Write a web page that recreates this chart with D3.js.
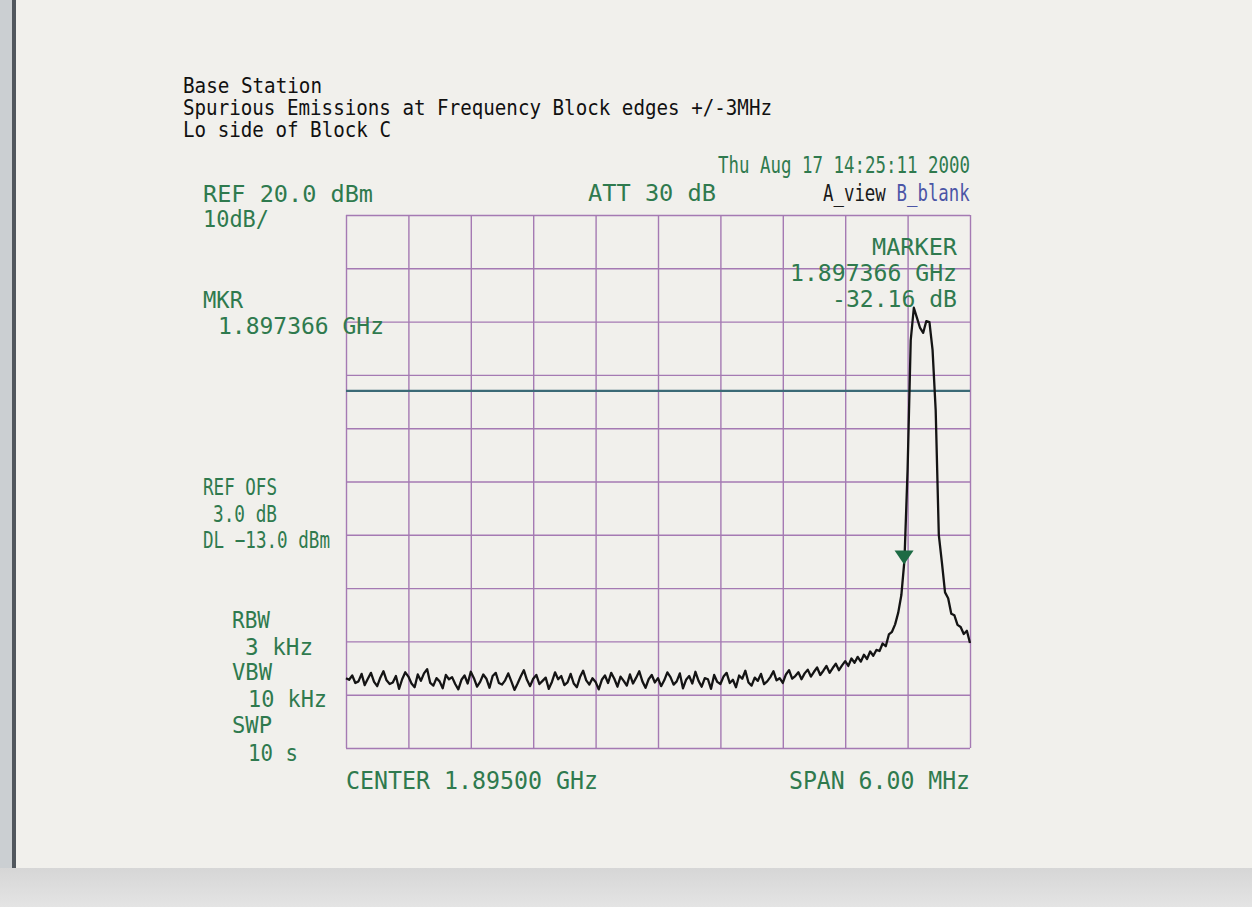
<!DOCTYPE html>
<html>
<head>
<meta charset="utf-8">
<title>Base Station - Spurious Emissions, Lo side of Block C</title>
<script src="https://cdn.jsdelivr.net/npm/d3@7/dist/d3.min.js"></script>
<style>
  body { margin: 0; background: #f1f0ec; }
  svg { display: block; }
  text { font-family: "DejaVu Sans Mono", monospace; }
</style>
</head>
<body>
<svg id="plot" width="1252" height="907"></svg>
<script>
// analyzer settings, as printed on the plot
var centerMHz = 1895.0;
var spanMHz = 6.0;
var refLevel = 20.0;       // dBm at top graticule
var dbPerDiv = 10;
var divisions = 10;
var displayLine = -13.0;   // DL
var markerMHz = 1897.366;

var headerLines = [
    "Base Station",
    "Spurious Emissions at Frequency Block edges +/-3MHz",
    "Lo side of Block C"
];

// trace A, 201 sweep points across the span (dBm)
var traceA = [
    -66.9, -67.2, -66.4, -67.8, -67.5, -66.1, -68.2, -67.0, -65.9, -67.6,
    -68.4, -66.8, -65.6, -67.3, -68.0, -67.7, -66.5, -68.9, -67.1, -65.8,
    -66.6, -67.9, -68.6, -66.2, -67.4, -66.0, -65.2, -67.8, -68.3, -66.9,
    -67.5, -68.8, -66.3, -67.1, -66.7, -68.0, -69.0, -67.2, -66.4, -67.9,
    -65.7, -66.9, -68.5, -67.6, -66.2, -67.0, -68.7, -66.5, -65.9, -67.8,
    -68.1, -67.3, -66.0, -67.5, -69.1, -67.9, -66.6, -65.4, -67.2, -68.4,
    -67.0, -66.3, -68.0, -67.4, -66.8, -68.9, -67.6, -65.8, -67.1, -66.5,
    -68.2, -67.7, -66.1, -67.9, -68.6, -66.7, -65.5, -67.3, -68.1, -66.9,
    -67.6, -69.0, -67.2, -66.4, -67.8, -65.9, -67.0, -68.5, -66.6, -67.4,
    -68.3, -66.2, -67.9, -66.8, -65.6, -67.5, -68.7, -67.1, -66.3, -67.7,
    -66.9, -68.4, -67.3, -65.8, -66.7, -68.1, -67.5, -66.0, -68.8, -67.2,
    -66.5, -67.9, -65.7, -67.4, -68.5, -66.9, -67.1, -68.9, -66.3, -67.6,
    -68.0, -66.6, -65.9, -67.8, -67.2, -68.6, -66.4, -67.0, -65.5, -67.7,
    -68.3, -66.8, -67.4, -66.1, -68.0, -67.5, -66.7, -65.6, -67.3, -66.9,
    -67.8, -66.2, -65.4, -67.0, -66.5, -65.8, -67.1, -66.0, -65.3, -66.6,
    -65.7, -64.9, -66.3, -65.5, -64.6, -65.9, -65.0, -64.2, -65.4, -64.5,
    -63.7, -64.6, -63.2, -64.0, -62.9, -63.8, -62.5, -63.3, -61.9, -62.7,
    -61.6, -61.8, -60.4, -60.9, -58.7, -58.2, -56.8, -54.6, -51.3, -44.7,
    -27.7, -3.5, 2.6, 0.7, -1.2, -2.1, 0.1, -0.1, -5.3, -16.6,
    -40.0, -45.2, -50.8, -51.9, -54.8, -55.1, -56.9, -57.3, -58.6, -58.0,
    -60.3
];

var svg = d3.select("#plot");
var green = "#2f7a4e";
var gridColor = "#a57ab3";

// ---- paper / scan edges ----
var grad = svg.append("defs").append("linearGradient")
    .attr("id", "scanEdge").attr("x1", 0).attr("y1", 0).attr("x2", 0).attr("y2", 1);
grad.append("stop").attr("offset", "0%").attr("stop-color", "#d6d6d6");
grad.append("stop").attr("offset", "100%").attr("stop-color", "#e4e4e4");

svg.append("rect").attr("x", 0).attr("y", 0).attr("width", 1252).attr("height", 907).attr("fill", "#f1f0ec");
svg.append("rect").attr("x", 0).attr("y", 0).attr("width", 12).attr("height", 868).attr("fill", "#cbcfd2");
svg.append("rect").attr("x", 12).attr("y", 0).attr("width", 4).attr("height", 868).attr("fill", "#51575d");
svg.append("rect").attr("x", 0).attr("y", 868).attr("width", 1252).attr("height", 39).attr("fill", "url(#scanEdge)");

// ---- scales ----
var startMHz = centerMHz - spanMHz / 2;
var stopMHz = centerMHz + spanMHz / 2;
var x = d3.scaleLinear().domain([startMHz, stopMHz]).range([346, 970]);
var y = d3.scaleLinear().domain([refLevel - dbPerDiv * divisions, refLevel]).range([748, 215]);

var freqTicks = d3.range(divisions + 1).map(function(i) { return startMHz + i * spanMHz / divisions; });
var levelTicks = d3.range(divisions + 1).map(function(i) { return refLevel - i * dbPerDiv; });

// graticule, drawn with axes stretched across the screen
var gx = svg.append("g").attr("transform", "translate(0," + y.range()[0] + ")")
    .call(d3.axisBottom(x).tickValues(freqTicks).tickSize(-(y.range()[0] - y.range()[1])).tickFormat(""));
var gy = svg.append("g").attr("transform", "translate(" + x.range()[0] + ",0)")
    .call(d3.axisLeft(y).tickValues(levelTicks).tickSize(-(x.range()[1] - x.range()[0])).tickFormat(""));
[gx, gy].forEach(function(g) {
    g.select(".domain").remove();
    g.selectAll("line").attr("stroke", gridColor).attr("stroke-width", 1.4);
});

// display line
svg.append("line")
    .attr("x1", x(startMHz)).attr("x2", x(stopMHz))
    .attr("y1", y(displayLine)).attr("y2", y(displayLine))
    .attr("stroke", "#3c6a76").attr("stroke-width", 2.4);

// ---- trace ----
var step = spanMHz / (traceA.length - 1);
var line = d3.line()
    .x(function(d, i) { return x(startMHz + i * step); })
    .y(function(d) { return y(d); });

svg.append("path")
    .datum(traceA)
    .attr("d", line)
    .attr("fill", "none")
    .attr("stroke", "#141414")
    .attr("stroke-width", 2.3)
    .attr("stroke-linejoin", "round");

// marker sits on the trace
var mi = (markerMHz - startMHz) / step;
var i0 = Math.floor(mi);
var mLevel = traceA[i0] + (traceA[i0 + 1] - traceA[i0]) * (mi - i0);
var mx = x(markerMHz), my = y(mLevel);
svg.append("path")
    .attr("d", "M" + (mx - 9.5) + "," + (my - 14) + "L" + (mx + 9.5) + "," + (my - 14) + "L" + mx + "," + my + "Z")
    .attr("fill", "#1d6b44");

// ---- annotations ----
var label = function(txt, px, py, w, size, color) {
    return svg.append("text")
        .attr("x", px).attr("y", py)
        .attr("textLength", w).attr("lengthAdjust", "spacingAndGlyphs")
        .attr("font-size", size)
        .attr("fill", color || green)
        .text(txt);
};

label(headerLines[0], 183, 93, 139, 21, "#111");
label(headerLines[1], 183, 115, 589, 21, "#111");
label(headerLines[2], 183, 137, 208, 21, "#111");

label("Thu Aug 17 14:25:11 2000", 718, 173, 252, 23);

// trace status: narrow font stretched tall, so no length squeeze is needed
var statusRow = svg.append("g").attr("transform", "translate(823,201) scale(1,1.3)");
statusRow.append("text").attr("x", 0).attr("y", 0).attr("font-size", 17.4)
    .attr("fill", "#1a1a1a").text("A_view");
statusRow.append("text").attr("x", 73.5).attr("y", 0).attr("font-size", 17.4)
    .attr("fill", "#4b55a6").text("B_blank");

label("REF 20.0 dBm", 203, 202, 170, 23);
label("10dB/", 203, 227, 66, 23);
label("ATT 30 dB", 588, 201, 128, 23);

label("MARKER", 872, 255, 85, 23);
label(d3.format(".6f")(markerMHz / 1000) + " GHz", 790, 281, 167, 23);
label("-32.16 dB", 832, 307, 125, 23);

label("MKR", 203, 308, 40, 23);
label(d3.format(".6f")(markerMHz / 1000) + " GHz", 218, 334, 166, 23);

label("REF OFS", 203, 495, 74, 23);
label("3.0 dB", 213, 522, 64, 23);
label("DL " + d3.format(".1f")(displayLine) + " dBm", 203, 548, 127, 23);

label("RBW", 232, 628, 38, 23);
label("3 kHz", 245, 655, 68, 23);
label("VBW", 232, 680, 40, 23);
label("10 kHz", 248, 707, 79, 23);
label("SWP", 232, 733, 40, 23);
label("10 s", 248, 761, 50, 23);

label("CENTER " + d3.format(".5f")(centerMHz / 1000) + " GHz", 346, 789, 252, 24);
label("SPAN " + d3.format(".2f")(spanMHz) + " MHz", 789, 789, 181, 24);
</script>
</body>
</html>
